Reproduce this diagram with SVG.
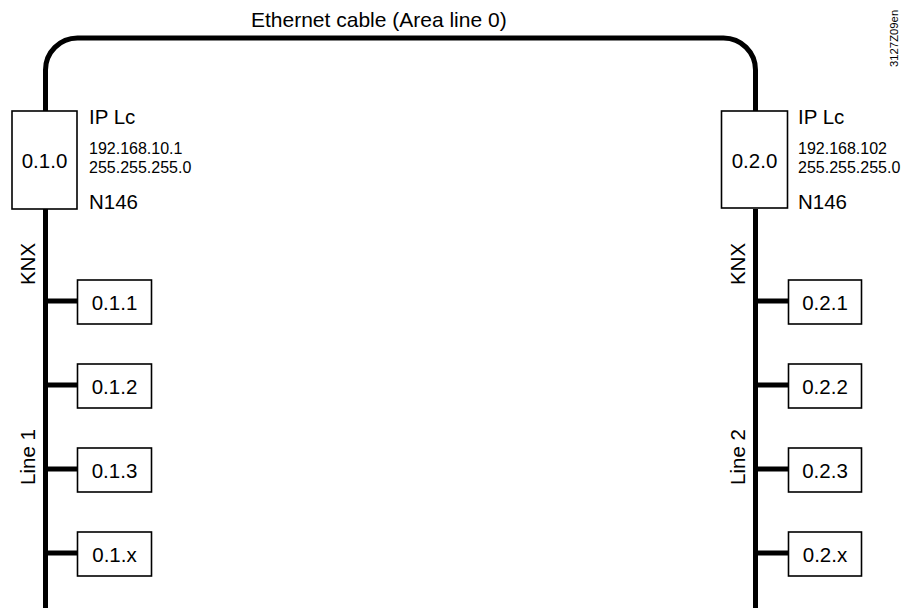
<svg xmlns="http://www.w3.org/2000/svg" width="902" height="608" viewBox="0 0 902 608">
<style>
text{font-family:"Liberation Sans",Arial,sans-serif;fill:#000}
.big{font-size:20.5px}
.title{font-size:21px}
.small{font-size:16px}
.ctr{text-anchor:middle}
.box{fill:#fff;stroke:#000;stroke-width:1.6}
.bus{fill:none;stroke:#000;stroke-width:5}
</style>
<rect width="902" height="608" fill="#fff"/>
<text class="title" x="251" y="27">Ethernet cable (Area line 0)</text>
<text x="898" y="67" font-size="11.3" transform="rotate(-90 898 67)">3127Z09en</text>
<g id="connectors">
<path class="bus" d="M45.5,111 V70 A32,32 0 0 1 77.5,38 H723.5 A32,32 0 0 1 755.5,70 V111"/>
<path class="bus" d="M45.5,209 V608 M755.5,209 V608"/>
<path class="bus" d="M45.5,301 H78 M45.5,385 H78 M45.5,469 H78 M45.5,553 H78"/>
<path class="bus" d="M755.5,301 H789 M755.5,385 H789 M755.5,469 H789 M755.5,553 H789"/>
</g>
<g id="lc1">
<rect class="box" x="12" y="111" width="65" height="98"/>
<text class="big ctr" x="44.5" y="168">0.1.0</text>
<text class="big" x="89" y="124">IP Lc</text>
<text class="small" x="89" y="154">192.168.10.1</text>
<text class="small" x="89" y="173">255.255.255.0</text>
<text class="big" x="89" y="209">N146</text>
</g>
<g id="lc2">
<rect class="box" x="721.5" y="111" width="66" height="97"/>
<text class="big ctr" x="754.5" y="168">0.2.0</text>
<text class="big" x="798" y="124">IP Lc</text>
<text class="small" x="798" y="154">192.168.102</text>
<text class="small" x="798" y="173">255.255.255.0</text>
<text class="big" x="798" y="209">N146</text>
</g>
<g id="labels1">
<text class="big ctr" transform="translate(35 264) rotate(-90)">KNX</text>
<text class="big ctr" transform="translate(35 457) rotate(-90)">Line 1</text>
</g>
<g id="labels2">
<text class="big ctr" transform="translate(745 264) rotate(-90)">KNX</text>
<text class="big ctr" transform="translate(745 457) rotate(-90)">Line 2</text>
</g>
<g id="n011"><rect class="box" x="77.5" y="280" width="74" height="44"/><text class="big ctr" x="114.5" y="309.5">0.1.1</text></g>
<g id="n012"><rect class="box" x="77.5" y="364" width="74" height="44"/><text class="big ctr" x="114.5" y="393.5">0.1.2</text></g>
<g id="n013"><rect class="box" x="77.5" y="448" width="74" height="44"/><text class="big ctr" x="114.5" y="477.5">0.1.3</text></g>
<g id="n01x"><rect class="box" x="77.5" y="532" width="74" height="44"/><text class="big ctr" x="114.5" y="561.5">0.1.x</text></g>
<g id="n021"><rect class="box" x="788.5" y="280" width="73" height="44"/><text class="big ctr" x="825" y="309.5">0.2.1</text></g>
<g id="n022"><rect class="box" x="788.5" y="364" width="73" height="44"/><text class="big ctr" x="825" y="393.5">0.2.2</text></g>
<g id="n023"><rect class="box" x="788.5" y="448" width="73" height="44"/><text class="big ctr" x="825" y="477.5">0.2.3</text></g>
<g id="n02x"><rect class="box" x="788.5" y="532" width="73" height="44"/><text class="big ctr" x="825" y="561.5">0.2.x</text></g>
</svg>
